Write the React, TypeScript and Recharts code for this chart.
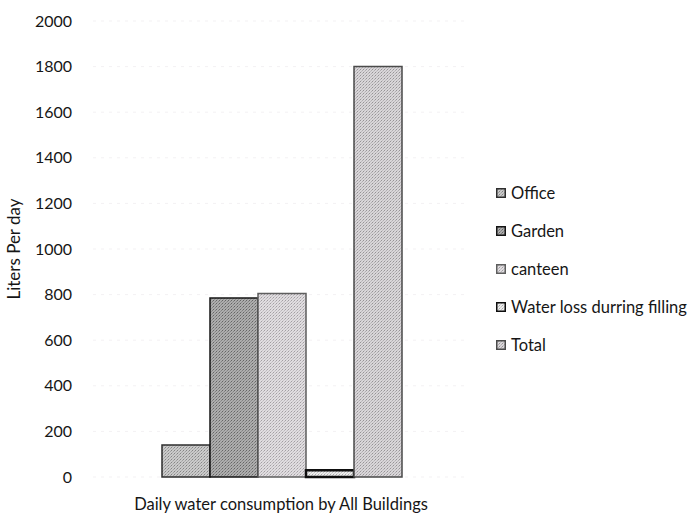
import { BarChart, Bar, XAxis, YAxis, CartesianGrid, Legend } from 'recharts';

const category = ['Daily water consumption by All Buildings'];
const seriesNames = ['Office', 'Garden', 'canteen', 'Water loss durring filling', 'Total'];
const seriesKeys = ['office', 'garden', 'canteen', 'waterLoss', 'total'];
const seriesValues = [140, 785, 805, 30, 1800];
const yTicks = [0, 200, 400, 600, 800, 1000, 1200, 1400, 1600, 1800, 2000];

// scanned look: base tone plus darker speckles
const tones = [
  { base: '#cacaca', dot: '#858585', stroke: '#2e2e2e' },
  { base: '#adadad', dot: '#656565', stroke: '#141414' },
  { base: '#e0dde0', dot: '#a29ea2', stroke: '#5e5e5e' },
  { base: '#ececec', dot: '#a9a9a9', stroke: '#0e0e0e' },
  { base: '#d9d6d9', dot: '#969396', stroke: '#4a4a4a' },
];

const FONT = 'Lato, "Open Sans", sans-serif';
const INK = '#161616';

const chartData = category.map((name) => {
  const row: Record<string, string | number> = { name };
  seriesKeys.forEach((k, i) => {
    row[k] = seriesValues[i];
  });
  return row;
});

const LegendBox = () => (
  <div style={{ fontFamily: FONT, fontSize: 16.5, color: INK }}>
    {seriesNames.map((n, i) => (
      <div key={n} style={{ display: 'flex', alignItems: 'center', height: 38 }}>
        <svg width={10} height={10} style={{ marginRight: 5 }}>
          <rect x={0.75} y={0.75} width={8.5} height={8.5} fill={`url(#pat${i})`} stroke={tones[i].stroke} strokeWidth={1.5} />
        </svg>
        <span>{n}</span>
      </div>
    ))}
  </div>
);

export default function App() {
  return (
    <div style={{ position: 'absolute', left: 0, top: 0, width: 691, height: 518, background: '#fff' }}>
      <BarChart
        width={691}
        height={518}
        data={chartData}
        margin={{ top: 21, right: 222, left: 0, bottom: 11 }}
        barGap={0}
        barCategoryGap={69}
      >
        <defs>
          {tones.map((t, i) => (
            <pattern key={i} id={`pat${i}`} width={3} height={3} patternUnits="userSpaceOnUse">
              <rect width={3} height={3} fill={t.base} />
              <rect x={0} y={0} width={1} height={1} fill={t.dot} />
              <rect x={2} y={1} width={1} height={1} fill={t.dot} opacity={0.6} />
              <rect x={1} y={2} width={1} height={1} fill={t.dot} opacity={0.4} />
            </pattern>
          ))}
        </defs>
        <CartesianGrid vertical={false} stroke="#f3f1f3" strokeDasharray="3 5" />
        <XAxis
          dataKey="name"
          axisLine={false}
          tickLine={false}
          tickSize={0}
          tickMargin={21}
          height={30}
          tick={{ fill: INK, fontSize: 16.5, fontFamily: FONT }}
        />
        <YAxis
          domain={[0, 2000]}
          ticks={yTicks}
          interval={0}
          axisLine={false}
          tickLine={false}
          tickSize={0}
          tickMargin={21}
          width={93}
          tick={{ fill: INK, fontSize: 16, fontFamily: FONT }}
          label={{
            value: 'Liters Per day',
            angle: -90,
            position: 'insideLeft',
            offset: 14,
            style: { fill: INK, fontSize: 17, fontFamily: FONT, textAnchor: 'middle' },
          }}
        />
        <Legend
          layout="vertical"
          align="center"
          verticalAlign="middle"
          wrapperStyle={{ left: 496, top: 174, width: 195 }}
          content={<LegendBox />}
        />
        {seriesKeys.map((k, i) => (
          <Bar
            key={k}
            dataKey={k}
            name={seriesNames[i]}
            fill={`url(#pat${i})`}
            stroke={tones[i].stroke}
            strokeWidth={i === 3 ? 2.5 : 1.5}
            isAnimationActive={false}
          />
        ))}
      </BarChart>
    </div>
  );
}
